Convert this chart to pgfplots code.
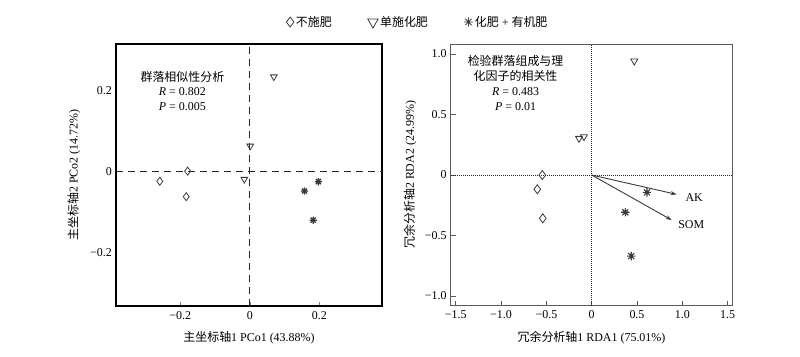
\documentclass[border=0pt]{standalone}
\usepackage{pgfplots}
\pgfplotsset{compat=1.18}
\usepackage{fontspec}
\setmainfont{Liberation Serif}
\newfontfamily\cjk{Noto Sans CJK SC}
\usetikzlibrary{arrows.meta}
\definecolor{mk}{HTML}{3A3A3A}
\definecolor{fr}{HTML}{5A5A5A}
\pgfdeclareplotmark{star8}{%
 \pgfpathmoveto{\pgfqpoint{0pt}{\pgfplotmarksize}}\pgfpathlineto{\pgfqpoint{0pt}{-\pgfplotmarksize}}%
 \pgfpathmoveto{\pgfqpoint{\pgfplotmarksize}{0pt}}\pgfpathlineto{\pgfqpoint{-\pgfplotmarksize}{0pt}}%
 \pgfpathmoveto{\pgfqpointpolar{45}{\pgfplotmarksize}}\pgfpathlineto{\pgfqpointpolar{225}{\pgfplotmarksize}}%
 \pgfpathmoveto{\pgfqpointpolar{135}{\pgfplotmarksize}}\pgfpathlineto{\pgfqpointpolar{315}{\pgfplotmarksize}}%
 \pgfusepathqstroke}
\begin{document}
\fontsize{12}{14.5}\selectfont
\begin{tikzpicture}[x=1bp,y=1bp]
\pgfplotsset{
  common/.style={
    scale only axis, anchor=south west,
    tick align=inside, major tick length=4bp,
    tick pos=left,
    every tick label/.append style={font=\fontsize{12}{14}\selectfont},
    label style={font=\fontsize{12}{14}\selectfont},
    xticklabel style={yshift=-1bp},
  }
}
% ---------------- left panel
\begin{axis}[common,
  at={(116bp,51bp)}, width=266bp, height=262bp,
  xmin=-0.385, xmax=0.38, ymin=-0.333, ymax=0.314,
  xtick={-0.2,0,0.2}, xticklabels={−0.2,0,0.2},
  ytick={-0.2,0,0.2}, yticklabels={−0.2,0,0.2},
  axis line style={line width=1.1bp, black},
  xtick style={gray, line width=0.6bp},
  ytick style={draw=none},
  xlabel={{\cjk 主坐标轴}1 PCo1 (43.88\%)},
  ylabel={{\cjk 主坐标轴}2 PCo2 (14.72\%)},
  xlabel style={at={(axis description cs:0.5,-0.122)}, anchor=center},
  ylabel style={at={(axis description cs:-0.158,0.5)}, anchor=center},
  legend columns=3,
  legend style={at={(1.135,1.084)}, anchor=center, draw=none, fill=none,
    font=\fontsize{12}{14}\selectfont,
    /tikz/every even column/.append style={column sep=34bp}},
  legend cell align=left,
]
\draw[black!85, line width=0.9bp, dash pattern=on 7bp off 5bp] (axis cs:-0.385,0) -- (axis cs:0.38,0);
\draw[black!85, line width=0.9bp, dash pattern=on 7bp off 5bp] (axis cs:0,-0.333) -- (axis cs:0,0.314);
\addplot[forget plot, only marks, mark=diamond, mark size=4bp, mk, line width=0.8bp, mark options={fill=white}]
  coordinates {(-0.259,-0.025) (-0.179,0.0) (-0.183,-0.063)};
\addplot[forget plot, only marks, mark=triangle, mark size=3.8bp, mk, line width=0.8bp, mark options={rotate=180, fill=white}]
  coordinates {(0.069,0.233) (0.001,0.062) (-0.016,-0.020)};
\addplot[forget plot, only marks, mark=star8, mark size=3.6bp, mk, line width=1.3bp]
  coordinates {(0.157,-0.049) (0.197,-0.026) (0.182,-0.121)};
\node[align=center, font=\fontsize{12}{14.5}\selectfont] at (axis cs:-0.194,0.198)
  {{\cjk 群落相似性分析}\\\textit{R} = 0.802\\\textit{P} = 0.005};
\addlegendimage{only marks, mark=diamond, mark size=5bp, mk, line width=0.8bp}
\addlegendimage{only marks, mark=triangle, mark size=6bp, mk, line width=0.8bp, mark options={rotate=180}}
\addlegendimage{only marks, mark=star8, mark size=4.5bp, mk, line width=0.8bp}
\legend{{\cjk 不施肥},{\cjk 单施化肥},{\cjk 化肥} + {\cjk 有机肥}}
\end{axis}
% ---------------- right panel
\begin{axis}[common,
  at={(450.7bp,51.3bp)}, width=281.6bp, height=261.7bp,
  xmin=-1.556, xmax=1.552, ymin=-1.08, ymax=1.083,
  xtick={-1.5,-1,-0.5,0,0.5,1,1.5}, xticklabels={−1.5,−1.0,−0.5,0,0.5,1.0,1.5},
  ytick={-1,-0.5,0,0.5,1}, yticklabels={−1.0,−0.5,0,0.5,1.0},
  axis line style={line width=0.8bp, fr},
  every tick/.style={fr, line width=0.8bp},
  major tick length=5bp,
  xlabel={{\cjk 冗余分析轴}1 RDA1 (75.01\%)},
  ylabel={{\cjk 冗余分析轴}2 RDA2 (24.99\%)},
  xlabel style={at={(axis description cs:0.5,-0.122)}, anchor=center},
  ylabel style={at={(axis description cs:-0.1445,0.5)}, anchor=center},
]
\draw[black!85, line width=0.7bp, dash pattern=on 1bp off 1bp] (axis cs:-1.556,0) -- (axis cs:1.552,0);
\draw[black!85, line width=0.7bp, dash pattern=on 1bp off 1bp] (axis cs:0,-1.08) -- (axis cs:0,1.083);
\addplot[-{Stealth[length=6bp,width=4bp]}, line width=0.9bp, mk] coordinates {(0,0) (0.938,-0.16)};
\addplot[-{Stealth[length=6bp,width=4bp]}, line width=0.9bp, mk] coordinates {(0,0) (0.883,-0.372)};
\node[anchor=west] at (axis cs:0.99,-0.184) {AK};
\node[anchor=west] at (axis cs:0.91,-0.41) {SOM};
\addplot[only marks, mark=diamond, mark size=4.5bp, mk, line width=0.8bp, mark options={fill=white}]
  coordinates {(-0.545,0.0) (-0.600,-0.118) (-0.540,-0.358)};
\addplot[only marks, mark=triangle, mark size=4bp, mk, line width=0.8bp, mark options={rotate=180, fill=white}]
  coordinates {(0.470,0.942) (-0.140,0.303) (-0.085,0.317)};
\addplot[only marks, mark=star8, mark size=4.2bp, mk, line width=1.1bp]
  coordinates {(0.610,-0.143) (0.371,-0.308) (0.437,-0.670)};
\node[align=center, font=\fontsize{12}{15}\selectfont] at (axis cs:-0.84,0.76)
  {{\cjk 检验群落组成与理}\\{\cjk 化因子的相关性}\\\textit{R} = 0.483\\\textit{P} = 0.01};
\end{axis}
\pgfresetboundingbox
\path[use as bounding box] (0bp,0bp) rectangle (800bp,357bp);
\end{tikzpicture}
\end{document}
